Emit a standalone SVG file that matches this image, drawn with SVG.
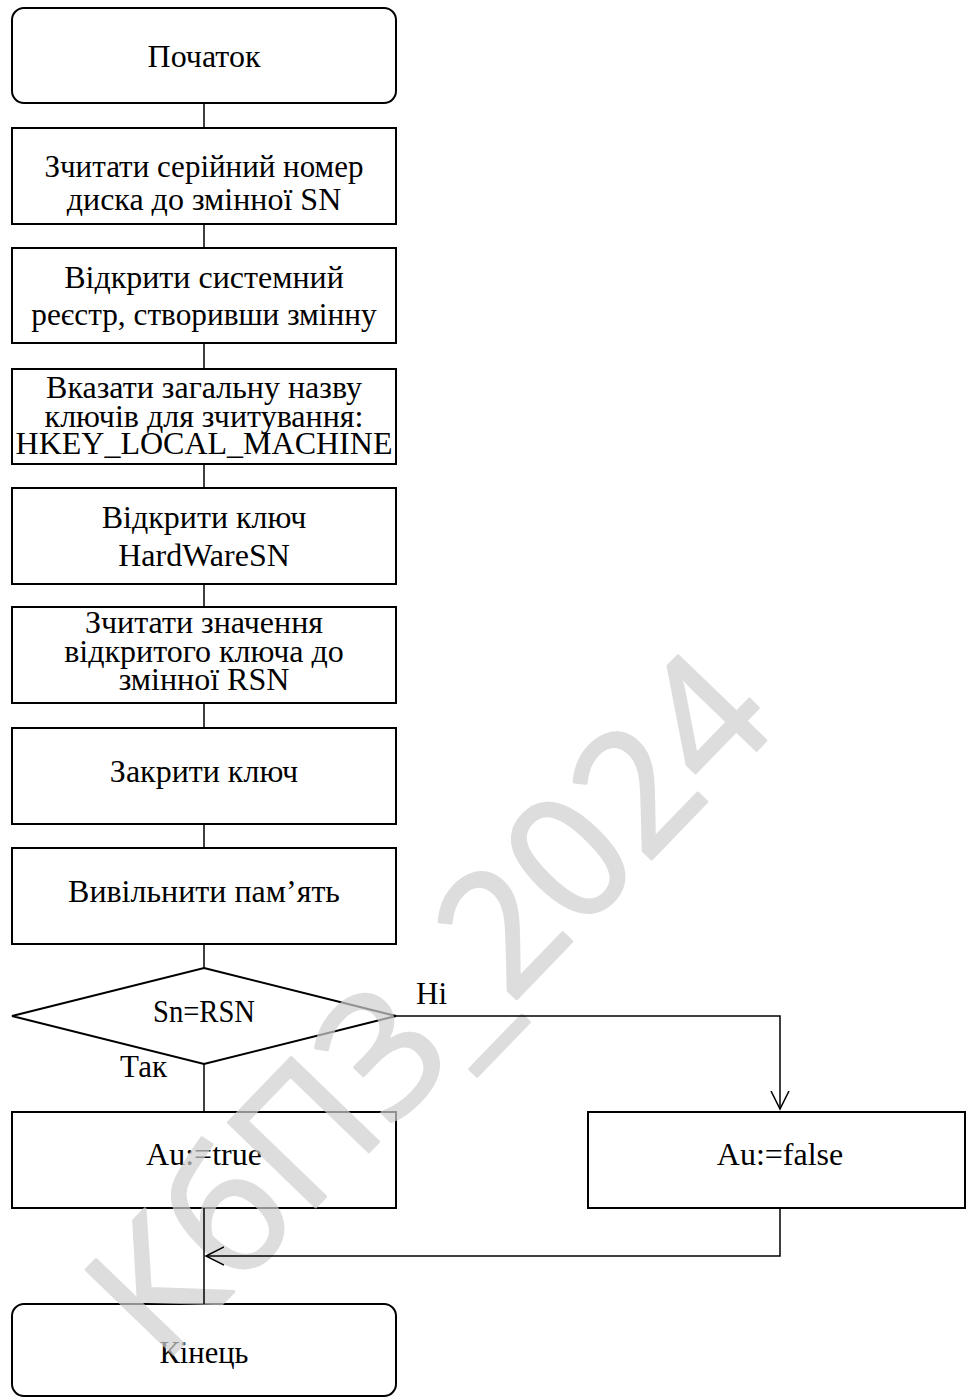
<svg xmlns="http://www.w3.org/2000/svg" width="966" height="1398" viewBox="0 0 966 1398">
  <defs>
    <marker id="arrow" viewBox="0 0 20 20" refX="18" refY="10" markerWidth="20" markerHeight="20" markerUnits="userSpaceOnUse" orient="auto">
      <path d="M0,1 L18,10 L0,19" fill="none" stroke="#000" stroke-width="1.5"/>
    </marker>
  </defs>
  <style>
    .shape { fill: none; stroke: #000; stroke-width: 2; }
    .conn { fill: none; stroke: #000; stroke-width: 1.5; }
    .t { font-family: "Liberation Serif", "Times New Roman", serif; font-size: 32px; fill: #000; text-anchor: middle; }
    .lbl { font-family: "Liberation Serif", "Times New Roman", serif; font-size: 31px; fill: #000; }
    .wm { font-family: "Open Sans", "DejaVu Sans", sans-serif; font-size: 170px; fill: #cfcfcf; stroke: #cfcfcf; stroke-width: 3; stroke-linejoin: round; opacity: 0.7; }
  </style>
  <rect width="966" height="1398" fill="#fff"/>

  <g id="start">
    <rect class="shape" x="12" y="8" width="384" height="95" rx="12"/>
    <text class="t" x="204" y="67">Початок</text>
  </g>
  <g id="read-sn">
    <rect class="shape" x="12" y="128" width="384" height="96"/>
    <text class="t" x="204" y="177" style="font-size:31px">Зчитати серійний номер</text>
    <text class="t" x="204" y="210">диска до змінної SN</text>
  </g>
  <g id="open-registry">
    <rect class="shape" x="12" y="248" width="384" height="95"/>
    <text class="t" x="204" y="288">Відкрити системний</text>
    <text class="t" x="204" y="325" style="font-size:31.3px">реєстр, створивши змінну</text>
  </g>
  <g id="root-key">
    <rect class="shape" x="12" y="369" width="384" height="95"/>
    <text class="t" x="204" y="398">Вказати загальну назву</text>
    <text class="t" x="204" y="427">ключів для зчитування:</text>
    <text class="t" x="204" y="454">HKEY_LOCAL_MACHINE</text>
  </g>
  <g id="open-key">
    <rect class="shape" x="12" y="488" width="384" height="96"/>
    <text class="t" x="204" y="528">Відкрити ключ</text>
    <text class="t" x="204" y="566">HardWareSN</text>
  </g>
  <g id="read-rsn">
    <rect class="shape" x="12" y="607" width="384" height="96"/>
    <text class="t" x="204" y="633">Зчитати значення</text>
    <text class="t" x="204" y="662">відкритого ключа до</text>
    <text class="t" x="204" y="690">змінної RSN</text>
  </g>
  <g id="close-key">
    <rect class="shape" x="12" y="728" width="384" height="96"/>
    <text class="t" x="204" y="782">Закрити ключ</text>
  </g>
  <g id="free-memory">
    <rect class="shape" x="12" y="848" width="384" height="96"/>
    <text class="t" x="204" y="902">Вивільнити пам’ять</text>
  </g>
  <g id="compare">
    <polygon class="shape" points="204,968 396,1016 204,1064 12,1016"/>
    <text class="t" x="204" y="1022" textLength="102" lengthAdjust="spacingAndGlyphs">Sn=RSN</text>
  </g>
  <g id="auth-true">
    <rect class="shape" x="12" y="1112" width="384" height="96"/>
    <text class="t" x="204" y="1165">Au:=true</text>
  </g>
  <g id="auth-false">
    <rect class="shape" x="588" y="1112" width="377" height="96"/>
    <text class="t" x="780" y="1165">Au:=false</text>
  </g>
  <g id="end">
    <rect class="shape" x="12" y="1304" width="384" height="92" rx="12"/>
    <text class="t" x="204" y="1363" style="font-size:30.5px">Кінець</text>
  </g>

  <text class="wm" transform="translate(162,1366) rotate(-46)">КбПЗ_2024</text>

  <g id="connectors">
    <line class="conn" x1="204" y1="103" x2="204" y2="128"/>
    <line class="conn" x1="204" y1="224" x2="204" y2="248"/>
    <line class="conn" x1="204" y1="343" x2="204" y2="369"/>
    <line class="conn" x1="204" y1="464" x2="204" y2="488"/>
    <line class="conn" x1="204" y1="584" x2="204" y2="607"/>
    <line class="conn" x1="204" y1="703" x2="204" y2="728"/>
    <line class="conn" x1="204" y1="824" x2="204" y2="848"/>
    <line class="conn" x1="204" y1="944" x2="204" y2="968"/>
    <line class="conn" x1="204" y1="1064" x2="204" y2="1112"/>
    <polyline class="conn" points="396,1016 780,1016 780,1109" marker-end="url(#arrow)"/>
    <line class="conn" x1="204" y1="1208" x2="204" y2="1304"/>
    <polyline class="conn" points="780,1208 780,1256 206,1256" marker-end="url(#arrow)"/>
    <text class="lbl" x="416" y="1004">Ні</text>
    <text class="lbl" x="120" y="1077">Так</text>
  </g>
</svg>
